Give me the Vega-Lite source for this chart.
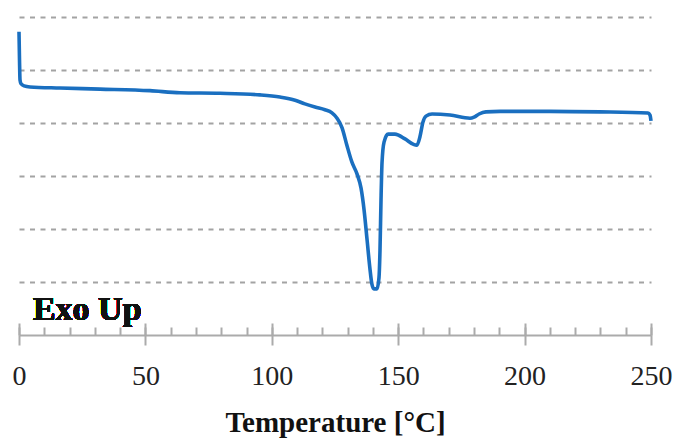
{
  "$schema": "https://vega.github.io/schema/vega-lite/v6.json",
  "width": 632,
  "height": 318,
  "autosize": "none",
  "padding": {"left": 19, "top": 17, "right": 26, "bottom": 104},
  "background": "white",
  "config": {"view": {"stroke": null}},
  "data": {"values": [
    {"T": 0, "Y": 5.72}, {"T": 0.2, "Y": 5.19}, {"T": 0.4, "Y": 4.81}, {"T": 0.8, "Y": 4.74},
    {"T": 2.0, "Y": 4.70}, {"T": 4.35, "Y": 4.68}, {"T": 16.2, "Y": 4.66}, {"T": 32, "Y": 4.64},
    {"T": 51.8, "Y": 4.61}, {"T": 63.7, "Y": 4.57}, {"T": 79.5, "Y": 4.56}, {"T": 95.3, "Y": 4.53},
    {"T": 103.2, "Y": 4.49}, {"T": 109.2, "Y": 4.43}, {"T": 113.1, "Y": 4.36}, {"T": 117.1, "Y": 4.30},
    {"T": 121, "Y": 4.25}, {"T": 123.8, "Y": 4.19}, {"T": 125.8, "Y": 4.09}, {"T": 127.8, "Y": 3.91},
    {"T": 129.7, "Y": 3.58}, {"T": 131.7, "Y": 3.26}, {"T": 133.7, "Y": 3.04}, {"T": 135.3, "Y": 2.77},
    {"T": 136.5, "Y": 2.36}, {"T": 137.7, "Y": 1.79}, {"T": 138.8, "Y": 1.26}, {"T": 139.6, "Y": 0.96},
    {"T": 140.4, "Y": 0.87}, {"T": 141.6, "Y": 0.87}, {"T": 142.4, "Y": 1.08}, {"T": 142.8, "Y": 1.60},
    {"T": 143.2, "Y": 2.55}, {"T": 143.6, "Y": 3.25}, {"T": 144.4, "Y": 3.64}, {"T": 146, "Y": 3.79},
    {"T": 148.7, "Y": 3.79}, {"T": 152.7, "Y": 3.70}, {"T": 155.9, "Y": 3.60}, {"T": 157.4, "Y": 3.58},
    {"T": 158.6, "Y": 3.74}, {"T": 159.8, "Y": 4.02}, {"T": 161, "Y": 4.13}, {"T": 163.4, "Y": 4.17},
    {"T": 170.5, "Y": 4.15}, {"T": 178.4, "Y": 4.09}, {"T": 180, "Y": 4.11}, {"T": 182, "Y": 4.17},
    {"T": 184.7, "Y": 4.21}, {"T": 190.3, "Y": 4.22}, {"T": 210, "Y": 4.22}, {"T": 229.8, "Y": 4.21},
    {"T": 248.8, "Y": 4.19}, {"T": 249.6, "Y": 4.15}, {"T": 250, "Y": 4.04}
  ]},
  "resolve": {"axis": {"x": "independent"}},
  "layer": [
    {
      "mark": {"type": "line", "color": "#1a6fc0", "strokeWidth": 3.6, "interpolate": "monotone"},
      "encoding": {
        "x": {"field": "T", "type": "quantitative",
          "scale": {"domain": [0, 250], "nice": false, "zero": false},
          "axis": {"orient": "bottom", "values": [0, 50, 100, 150, 200, 250], "grid": false,
            "domainColor": "#ababab", "domainWidth": 2,
            "tickColor": "#ababab", "tickWidth": 2, "tickSize": 10,
            "labelFont": "Liberation Serif", "labelFontSize": 28, "labelColor": "#222222",
            "labelPadding": 17, "labelFlush": false, "labelOverlap": false,
            "title": "Temperature [°C]", "titleFont": "Liberation Serif", "titleFontSize": 29,
            "titleFontWeight": "bold", "titleColor": "#111111", "titlePadding": 18}},
        "y": {"field": "Y", "type": "quantitative",
          "scale": {"domain": [0, 6], "nice": false, "zero": false},
          "axis": {"values": [1, 2, 3, 4, 5, 6], "grid": true, "gridDash": [5, 5.5],
            "gridColor": "#a3a3a3", "gridWidth": 2, "domain": false, "ticks": false,
            "labels": false, "title": null}}
      }
    },
    {
      "mark": {"type": "text", "text": "Exo Up", "align": "left", "baseline": "alphabetic",
        "font": "Liberation Serif", "fontSize": 34, "fontWeight": "bold", "color": "#111111"},
      "encoding": {
        "x": {"datum": 5.5, "type": "quantitative",
          "axis": {"orient": "bottom", "values": [0, 10, 20, 30, 40, 50, 60, 70, 80, 90, 100, 110, 120, 130, 140, 150, 160, 170, 180, 190, 200, 210, 220, 230, 240, 250],
            "grid": false, "domain": false, "labels": false, "title": null,
            "tickColor": "#ababab", "tickWidth": 2, "tickSize": -8}},
        "y": {"datum": 0.283, "type": "quantitative"}
      }
    },
    {
      "mark": {"type": "text", "text": ""},
      "encoding": {
        "x": {"datum": 0, "type": "quantitative",
          "axis": {"orient": "bottom", "values": [0, 50, 100, 150, 200, 250],
            "grid": false, "domain": false, "labels": false, "title": null,
            "tickColor": "#ababab", "tickWidth": 2, "tickSize": -12}},
        "y": {"datum": 0, "type": "quantitative"}
      }
    }
  ]
}
